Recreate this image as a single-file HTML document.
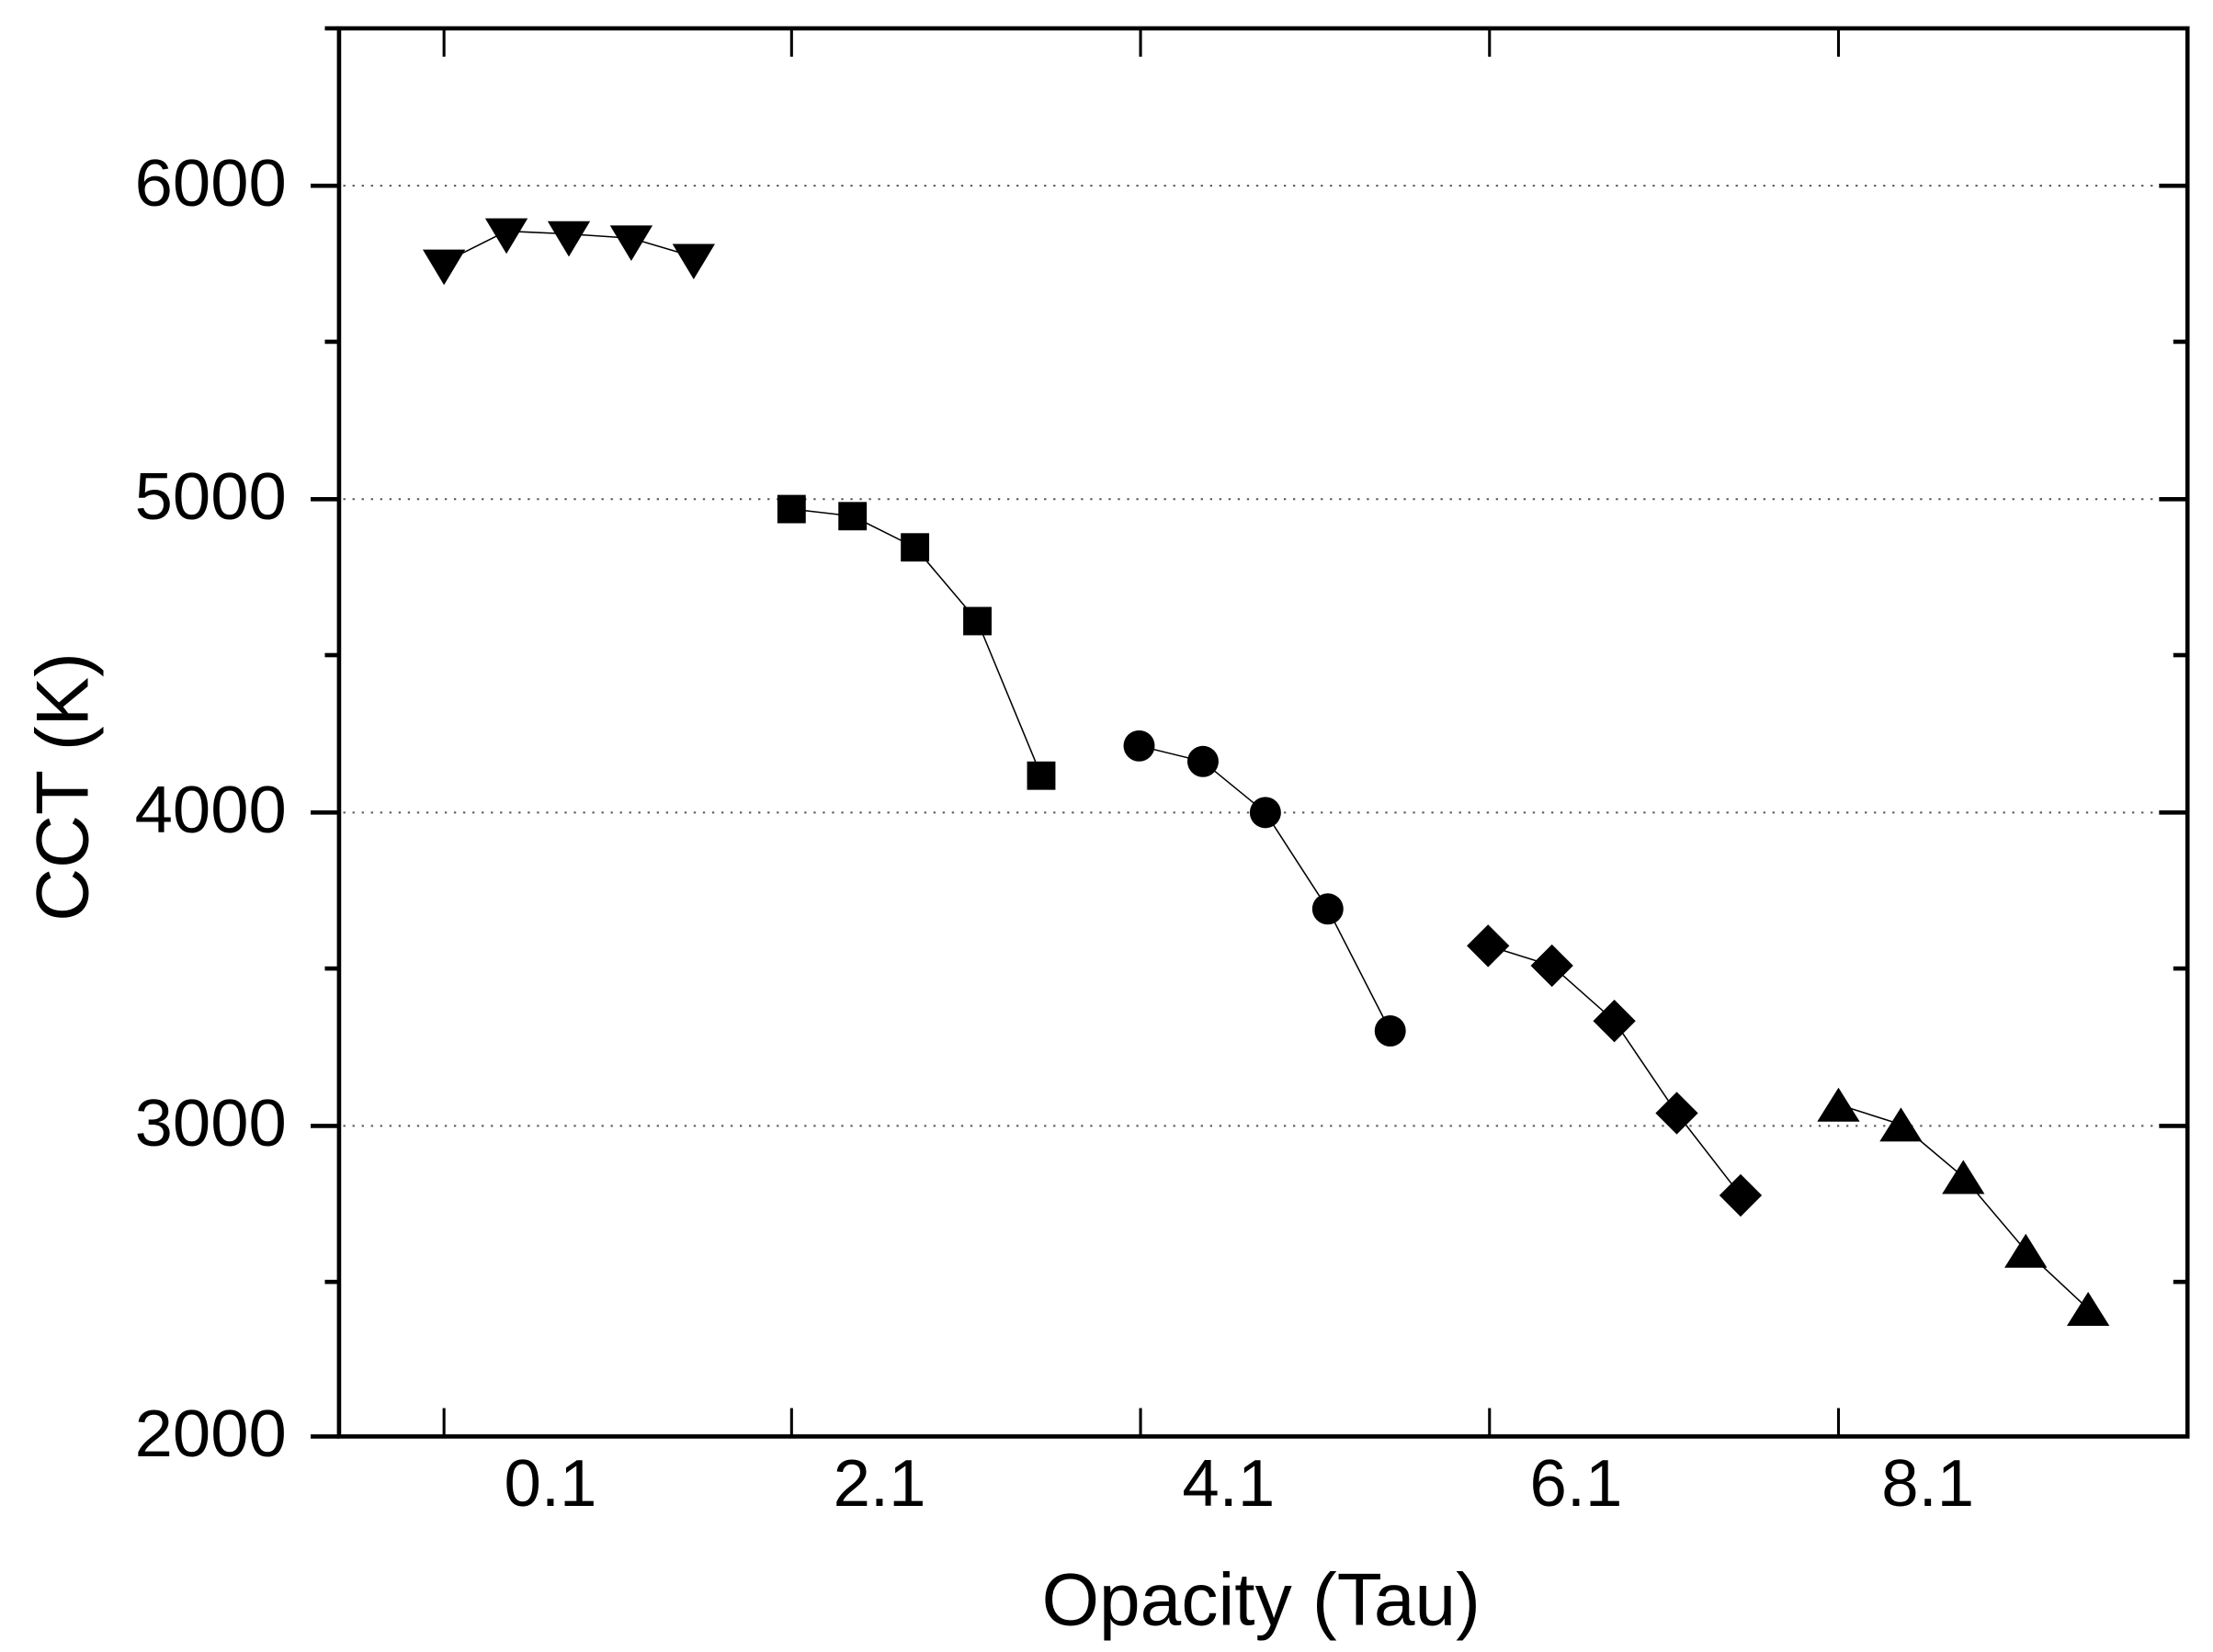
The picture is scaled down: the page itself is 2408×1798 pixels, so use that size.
<!DOCTYPE html>
<html><head><meta charset="utf-8"><style>html,body{margin:0;padding:0;background:#fff}svg{display:block}</style></head>
<body>
<svg width="2408" height="1798" viewBox="0 0 1560 1165" preserveAspectRatio="none" xmlns="http://www.w3.org/2000/svg" font-family="Liberation Sans, Arial, sans-serif">
<g stroke="#555" stroke-width="1.3" stroke-dasharray="1.5 5">
<line x1="242" y1="131" x2="1540" y2="131"/>
<line x1="242" y1="352" x2="1540" y2="352"/>
<line x1="242" y1="573" x2="1540" y2="573"/>
<line x1="242" y1="794" x2="1540" y2="794"/>
</g>
<g stroke="#000" stroke-width="3" fill="none">
<rect x="239" y="20" width="1303" height="993"/>
<line x1="219" y1="131" x2="239" y2="131"/><line x1="219" y1="352" x2="239" y2="352"/><line x1="219" y1="573" x2="239" y2="573"/><line x1="219" y1="794" x2="239" y2="794"/><line x1="219" y1="1013" x2="239" y2="1013"/>
<line x1="229" y1="241" x2="239" y2="241"/><line x1="229" y1="462" x2="239" y2="462"/><line x1="229" y1="683" x2="239" y2="683"/><line x1="229" y1="904" x2="239" y2="904"/><line x1="229" y1="20" x2="239" y2="20"/>
<line x1="1522" y1="131" x2="1542" y2="131"/><line x1="1522" y1="352" x2="1542" y2="352"/><line x1="1522" y1="573" x2="1542" y2="573"/><line x1="1522" y1="794" x2="1542" y2="794"/>
<line x1="1532" y1="241" x2="1542" y2="241"/><line x1="1532" y1="462" x2="1542" y2="462"/><line x1="1532" y1="683" x2="1542" y2="683"/><line x1="1532" y1="904" x2="1542" y2="904"/>
</g>
<g stroke="#000" stroke-width="2">
<line x1="313" y1="20" x2="313" y2="40"/><line x1="558" y1="20" x2="558" y2="40"/><line x1="804" y1="20" x2="804" y2="40"/><line x1="1050" y1="20" x2="1050" y2="40"/><line x1="1296" y1="20" x2="1296" y2="40"/>
<line x1="313" y1="1013" x2="313" y2="993"/><line x1="558" y1="1013" x2="558" y2="993"/><line x1="804" y1="1013" x2="804" y2="993"/><line x1="1050" y1="1013" x2="1050" y2="993"/><line x1="1296" y1="1013" x2="1296" y2="993"/>
</g>
<g font-size="47" fill="#000">
<text x="95" y="145" textLength="107" lengthAdjust="spacingAndGlyphs">6000</text>
<text x="95" y="366" textLength="107" lengthAdjust="spacingAndGlyphs">5000</text>
<text x="95" y="587" textLength="107" lengthAdjust="spacingAndGlyphs">4000</text>
<text x="95" y="808" textLength="107" lengthAdjust="spacingAndGlyphs">3000</text>
<text x="95" y="1027" textLength="107" lengthAdjust="spacingAndGlyphs">2000</text>
</g>
<g font-size="47" fill="#000" text-anchor="middle">
<text x="388" y="1062">0.1</text><text x="620" y="1062">2.1</text><text x="866" y="1062">4.1</text><text x="1111" y="1062">6.1</text><text x="1359" y="1062">8.1</text>
</g>
<text x="889" y="1146" font-size="52" text-anchor="middle">Opacity (Tau)</text>
<text transform="translate(62,555) rotate(-90)" font-size="52" text-anchor="middle">CCT (K)</text>
<g stroke="#000" stroke-width="1" fill="none">
<polyline points="313,185 357,163 401,165 445,168 489,181"/>
<polyline points="558,359 601,364 645,386 689,438 734,547"/>
<polyline points="803,526 848,537 892,573 936,641 980,727"/>
<polyline points="1049,667 1094,681 1138,720 1182,785 1227,843"/>
<polyline points="1296,779 1340,793 1384,830 1428,882 1472,923"/>
</g>
<g fill="#000">
<path d="M298,176 h30 l-15,25z"/><path d="M342,154 h30 l-15,25z"/><path d="M386,156 h30 l-15,25z"/><path d="M430,159 h30 l-15,25z"/><path d="M474,172 h30 l-15,25z"/>
<rect x="548" y="349" width="20" height="20"/><rect x="591" y="354" width="20" height="20"/><rect x="635" y="376" width="20" height="20"/><rect x="679" y="428" width="20" height="20"/><rect x="724" y="537" width="20" height="20"/>
<circle cx="803" cy="526" r="11"/><circle cx="848" cy="537" r="11"/><circle cx="892" cy="573" r="11"/><circle cx="936" cy="641" r="11"/><circle cx="980" cy="727" r="11"/>
<path d="M1049,652 l15,15 l-15,15 l-15,-15z"/><path d="M1094,666 l15,15 l-15,15 l-15,-15z"/><path d="M1138,705 l15,15 l-15,15 l-15,-15z"/><path d="M1182,770 l15,15 l-15,15 l-15,-15z"/><path d="M1227,828 l15,15 l-15,15 l-15,-15z"/>
<path d="M1296,767 l15,24 h-30z"/><path d="M1340,781 l15,24 h-30z"/><path d="M1384,818 l15,24 h-30z"/><path d="M1428,870 l15,24 h-30z"/><path d="M1472,911 l15,24 h-30z"/>
</g>
</svg>
</body></html>
